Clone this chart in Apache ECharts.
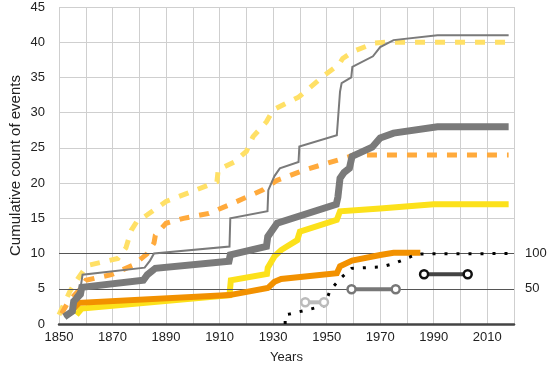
<!DOCTYPE html>
<html>
<head>
<meta charset="utf-8">
<script src="https://cdn.jsdelivr.net/npm/echarts@6/dist/echarts.min.js"></script>
<style>html,body{margin:0;padding:0;background:#fff}#c{width:550px;height:369px}</style>
</head>
<body>
<div id="c"></div>
<script>
// Series data: [year, cumulative count]
const thinGray = [[1852,1],[1855,2],[1856,4],[1858,5],[1858.8,7],[1882,8],[1884,9],[1885.5,10],[1913.7,11],[1914,15],[1927.9,16],[1928.2,19],[1930.5,21],[1932.5,22.1],[1939.5,23],[1939.8,25.2],[1953.8,26.8],[1955,33],[1955.6,34.2],[1959.2,35],[1959.6,36.5],[1967.3,38],[1970,39.3],[1975,40.3],[1991.4,41],[2018,41]];
const thickGray = [[1852,1],[1855,1.8],[1855.5,3.2],[1858,4.2],[1858.5,5.2],[1881.5,6.2],[1883,7],[1886,7.9],[1913.5,8.9],[1914,9.8],[1927.5,11],[1928,12.4],[1931.5,14.3],[1953.6,17],[1954.2,18],[1955,20.7],[1956.5,21.5],[1958.5,22.1],[1959.5,23.8],[1967,25.1],[1970,26.4],[1975,27.1],[1991.4,28],[2018,28]];
const yellowDashed = [[1850,1.3],[1854,4.6],[1857.5,6.7],[1860.5,8.3],[1872,9.3],[1875,10.8],[1877,13.3],[1879,14.5],[1883,15.5],[1890,17.4],[1901,19],[1909,20.2],[1909.5,21.9],[1915.5,23],[1920,24.5],[1922.5,26.6],[1927.5,28.7],[1930,30.4],[1939.5,32.2],[1949.5,35.4],[1954.5,36.8],[1956,37.7],[1960,38.7],[1968,39.9],[1972,40],[2018,40]];
const orangeDashed = [[1851,1.5],[1853.5,3.2],[1857.5,4.8],[1860,6.2],[1869.5,7],[1878,8.4],[1883,10],[1885.5,11.5],[1886,12.6],[1890,14.3],[1896.5,15],[1906,15.7],[1913.5,16.9],[1926,19],[1931.5,20.4],[1942,21.9],[1958,23.7],[1960,24],[2018,24]];
const yellowSolid = [[1856.5,1.3],[1858.5,2.2],[1913.7,4.1],[1914.2,6.2],[1927.7,7.1],[1928,8],[1930.5,9.6],[1933,10.5],[1939,11.9],[1940,13.1],[1953.8,14.8],[1955,16],[1970,16.4],[1990,17],[2018,17]];
const orangeSolid = [[1855,2],[1857.5,3],[1913.7,4.1],[1928,5.1],[1930.5,6],[1933,6.4],[1953.8,7.2],[1955,8.2],[1959.5,9],[1970,9.8],[1975,10.1],[1985,10.1]];
// secondary scale (right axis)
const dottedSecondary = [[1934.5,0],[1934.5,13],[1936,14],[1949.2,26],[1951.3,48],[1955.5,66],[1959.3,79],[1970.4,81],[1975.3,86],[1984,99.5],[2018,100]];
const dumbbellLight = [[1942,30.8],[1949,30.8]];
const dumbbellMid = [[1959.3,49.3],[1975.8,49.3]];
const dumbbellDark = [[1986.4,70.6],[2002.7,70.6]];
const rightTickLabels = [50, 100];
const refLines = [50, 100];

const font = "'Liberation Sans', Arial, Helvetica, sans-serif";
const chart = echarts.init(document.getElementById('c'), null, {renderer: 'canvas'});

function lineSeries(data, color, width, type, yIdx, z) {
  return {
    type: 'line', data: data, yAxisIndex: yIdx || 0, showSymbol: false, symbol: 'none',
    animation: false, silent: true, z: z || 2,
    lineStyle: {color: color, width: width, type: type || 'solid', cap: 'butt', join: 'miter'}
  };
}
function dumbbell(data, color, border, z) {
  return {
    type: 'line', data: data, yAxisIndex: 1, symbol: 'circle', symbolSize: 8, showSymbol: true,
    animation: false, silent: true, z: z,
    lineStyle: {color: color, width: 4},
    itemStyle: {color: '#fff', borderColor: border, borderWidth: 2.5}
  };
}

const dotted = lineSeries(dottedSecondary, '#000', 3, [3, 9], 1, 8);
dotted.markLine = {
  silent: true, symbol: 'none', animation: false, label: {show: false},
  lineStyle: {color: '#555', width: 1, type: 'solid'},
  data: refLines.map(v => ({yAxis: v}))
};

chart.setOption({
  backgroundColor: '#fff',
  animation: false,
  grid: {left: 54, right: 36, top: 7, bottom: 45, containLabel: false},
  xAxis: {
    type: 'value', min: 1850, max: 2020, interval: 10,
    name: 'Years', nameLocation: 'middle', nameGap: 27, nameMoveOverlap: false,
    nameTextStyle: {color: '#222', fontSize: 13, fontFamily: font},
    axisLine: {show: true, lineStyle: {color: '#444', width: 2.5}},
    axisTick: {show: false},
    axisLabel: {color: '#222', fontSize: 13, fontFamily: font, margin: 7,
      formatter: v => ((v - 1850) % 20 === 0 && v < 2020) ? String(v) : ''},
    splitLine: {show: true, lineStyle: {color: '#cfcfcf', width: 1}}
  },
  yAxis: [{
    type: 'value', min: 0, max: 45, interval: 5,
    name: 'Cumulative count of events', nameLocation: 'middle', nameGap: 36, nameMoveOverlap: false,
    nameTextStyle: {color: '#222', fontSize: 15, fontFamily: font},
    axisLine: {show: false}, axisTick: {show: false},
    axisLabel: {color: '#222', fontSize: 13, fontFamily: font, margin: 14},
    splitLine: {show: true, lineStyle: {color: '#cfcfcf', width: 1}}
  }, {
    type: 'value', min: 0, max: 450, interval: 50, position: 'right',
    axisLine: {show: false}, axisTick: {show: false},
    axisLabel: {color: '#222', fontSize: 13, fontFamily: font, margin: 11,
      formatter: v => rightTickLabels.indexOf(v) >= 0 ? String(v) : ''},
    splitLine: {show: false}
  }],
  series: [
    lineSeries(yellowDashed, '#FFE066', 5, [10, 10], 0, 2),
    lineSeries(orangeDashed, '#FFAA3C', 5, [10, 10], 0, 3),
    lineSeries(yellowSolid, '#FCE11B', 6, 'solid', 0, 4),
    lineSeries(orangeSolid, '#F29100', 6, 'solid', 0, 5),
    lineSeries(thickGray, '#7A7A7A', 7, 'solid', 0, 6),
    lineSeries(thinGray, '#7A7A7A', 2, 'solid', 0, 7),
    dotted,
    dumbbell(dumbbellLight, '#BBBBBB', '#BBBBBB', 9),
    dumbbell(dumbbellMid, '#777777', '#777777', 9),
    dumbbell(dumbbellDark, '#444444', '#111111', 9)
  ]
});
</script>
</body>
</html>
